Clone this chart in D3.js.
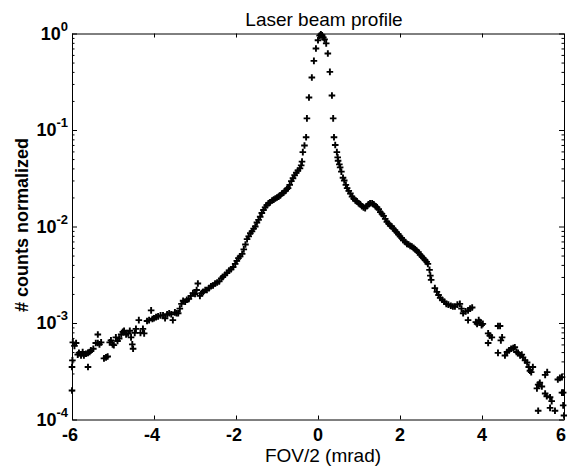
<html><head>
<title>Laser beam profile</title>
<style>
  body { margin: 0; background: #fff; }
  svg { display: block; font-family: "Liberation Sans", Arial, sans-serif; }
  .axis line, .axis path { stroke: #000; stroke-width: 1; }
  .mark { fill: none; stroke: #000; stroke-width: 1.9; }
</style>
<script src="https://d3js.org/d3.v7.min.js"></script>
</head>
<body>
<div id="chart"></div>
<script>
// FOV/2 in mrad
const fov = [
  -6.00, -6.00, -5.99, -5.98, -5.94, -5.90, -5.86, -5.83, -5.78, -5.74,
  -5.71, -5.66, -5.61, -5.61, -5.57, -5.54, -5.48, -5.42, -5.37, -5.37,
  -5.33, -5.29, -5.22, -5.17, -5.13, -5.08, -5.05, -5.01, -4.98, -4.93,
  -4.89, -4.85, -4.80, -4.76, -4.73, -4.68, -4.63, -4.59, -4.56, -4.53,
  -4.51, -4.47, -4.44, -4.37, -4.33, -4.27, -4.24, -4.17, -4.12, -4.07,
  -4.04, -4.00, -3.95, -3.90, -3.84, -3.78, -3.73, -3.68, -3.63, -3.58,
  -3.54, -3.49, -3.45, -3.41, -3.37, -3.33, -3.29, -3.24, -3.20, -3.15,
  -3.10, -3.05, -3.00, -2.96, -2.93, -2.88, -2.84, -2.80, -2.75, -2.71,
  -2.66, -2.61, -2.56, -2.51, -2.46, -2.41, -2.36, -2.32, -2.27, -2.22,
  -2.17, -2.12, -2.07, -2.02, -1.98, -1.94, -1.90, -1.85, -1.81, -1.77,
  -1.73, -1.69, -1.65, -1.61, -1.57, -1.53, -1.49, -1.45, -1.41, -1.37,
  -1.33, -1.29, -1.25, -1.21, -1.17, -1.12, -1.08, -1.04, -1.00, -0.96,
  -0.92, -0.88, -0.84, -0.80, -0.76, -0.73, -0.69, -0.65, -0.61, -0.57,
  -0.53, -0.49, -0.44, -0.41, -0.39, -0.37, -0.33, -0.29, -0.27, -0.22,
  -0.15, -0.10, -0.05, 0.00, 0.04, 0.07, 0.10, 0.13, 0.16, 0.20,
  0.24, 0.29, 0.34, 0.37, 0.39, 0.42, 0.46, 0.48, 0.49, 0.52,
  0.54, 0.57, 0.61, 0.64, 0.68, 0.71, 0.75, 0.79, 0.83, 0.87,
  0.91, 0.95, 0.99, 1.03, 1.07, 1.11, 1.15, 1.19, 1.23, 1.27,
  1.32, 1.36, 1.40, 1.44, 1.48, 1.52, 1.56, 1.60, 1.64, 1.68,
  1.72, 1.76, 1.80, 1.84, 1.88, 1.92, 1.96, 2.00, 2.04, 2.08,
  2.13, 2.17, 2.21, 2.25, 2.29, 2.33, 2.37, 2.41, 2.45, 2.49,
  2.53, 2.57, 2.61, 2.65, 2.68, 2.72, 2.74, 2.76, 2.85, 2.90,
  2.94, 2.98, 3.03, 3.08, 3.13, 3.18, 3.24, 3.29, 3.34, 3.40,
  3.46, 3.50, 3.54, 3.60, 3.66, 3.71, 3.76, 3.66, 3.85, 3.88,
  3.92, 3.95, 3.99, 4.02, 4.15, 4.19, 4.24, 4.15, 4.39, 4.44,
  4.49, 4.46, 4.39, 4.56, 4.61, 4.66, 4.71, 4.76, 4.80, 4.84,
  4.88, 4.93, 4.97, 5.00, 5.05, 5.10, 5.14, 5.17, 5.20, 5.24,
  5.34, 5.37, 5.41, 5.46, 5.54, 5.59, 5.54, 5.58, 5.66, 5.70,
  5.37, 5.66, 5.78, 5.85, 5.90, 5.95, 5.95, 5.98, 6.00, 5.98
];

// # counts normalized (peak = 1)
const counts = [
  2.0e-4, 3.5e-4, 4.1e-4, 6.3e-4, 5.8e-4, 6.2e-4, 4.7e-4, 4.9e-4, 4.6e-4, 5.0e-4,
  4.6e-4, 4.8e-4, 4.9e-4, 3.5e-4, 5.0e-4, 5.2e-4, 5.4e-4, 6.2e-4, 7.6e-4, 6.2e-4,
  6.0e-4, 6.3e-4, 4.3e-4, 4.4e-4, 4.5e-4, 6.3e-4, 6.6e-4, 6.0e-4, 5.9e-4, 7.1e-4,
  6.5e-4, 6.9e-4, 7.6e-4, 8.1e-4, 8.3e-4, 7.6e-4, 7.8e-4, 8.3e-4, 7.1e-4, 6.0e-4,
  5.4e-4, 7.9e-4, 8.7e-4, 1.07e-3, 7.9e-4, 8.7e-4, 7.8e-4, 1.05e-3, 1.07e-3, 1.35e-3,
  1.10e-3, 1.12e-3, 1.15e-3, 1.17e-3, 1.20e-3, 1.20e-3, 1.12e-3, 1.23e-3, 1.26e-3, 1.23e-3,
  1.07e-3, 1.29e-3, 1.26e-3, 1.26e-3, 1.41e-3, 1.58e-3, 1.70e-3, 1.66e-3, 1.74e-3, 1.78e-3,
  1.91e-3, 2.04e-3, 2.00e-3, 2.20e-3, 2.57e-3, 1.91e-3, 2.04e-3, 2.10e-3, 2.20e-3, 2.20e-3,
  2.30e-3, 2.40e-3, 2.45e-3, 2.57e-3, 2.63e-3, 2.70e-3, 2.90e-3, 3.00e-3, 3.16e-3, 3.30e-3,
  3.50e-3, 3.60e-3, 3.80e-3, 4.10e-3, 4.40e-3, 4.70e-3, 4.90e-3, 5.20e-3, 5.80e-3, 6.50e-3,
  7.40e-3, 7.90e-3, 8.50e-3, 8.90e-3, 9.50e-3, 1.00e-2, 1.10e-2, 1.17e-2, 1.26e-2, 1.38e-2,
  1.48e-2, 1.58e-2, 1.66e-2, 1.74e-2, 1.78e-2, 1.86e-2, 1.90e-2, 1.95e-2, 2.00e-2, 2.04e-2,
  2.10e-2, 2.20e-2, 2.24e-2, 2.34e-2, 2.45e-2, 2.50e-2, 2.70e-2, 2.95e-2, 3.16e-2, 3.40e-2,
  3.60e-2, 3.80e-2, 4.00e-2, 4.30e-2, 4.70e-2, 5.90e-2, 6.90e-2, 8.40e-2, 0.132, 0.217,
  0.35, 0.52, 0.70, 0.85, 0.95, 0.98, 0.96, 0.91, 0.87, 0.79,
  0.62, 0.40, 0.228, 0.132, 8.40e-2, 7.00e-2, 5.90e-2, 5.20e-2, 4.80e-2, 4.40e-2,
  4.10e-2, 3.70e-2, 3.20e-2, 3.00e-2, 2.70e-2, 2.50e-2, 2.34e-2, 2.20e-2, 2.04e-2, 1.95e-2,
  1.86e-2, 1.82e-2, 1.74e-2, 1.70e-2, 1.62e-2, 1.58e-2, 1.55e-2, 1.62e-2, 1.70e-2, 1.74e-2,
  1.74e-2, 1.70e-2, 1.62e-2, 1.58e-2, 1.51e-2, 1.41e-2, 1.35e-2, 1.29e-2, 1.20e-2, 1.12e-2,
  1.07e-2, 1.02e-2, 1.00e-2, 9.50e-3, 9.10e-3, 8.70e-3, 8.30e-3, 7.90e-3, 7.60e-3, 7.20e-3,
  6.90e-3, 6.60e-3, 6.50e-3, 6.30e-3, 6.20e-3, 6.00e-3, 5.80e-3, 5.60e-3, 5.40e-3, 5.10e-3,
  4.90e-3, 4.70e-3, 4.50e-3, 4.30e-3, 4.10e-3, 3.55e-3, 3.10e-3, 2.80e-3, 2.30e-3, 2.10e-3,
  1.95e-3, 1.82e-3, 1.74e-3, 1.66e-3, 1.58e-3, 1.55e-3, 1.51e-3, 1.48e-3, 1.48e-3, 1.55e-3,
  1.58e-3, 1.41e-3, 1.26e-3, 1.32e-3, 1.35e-3, 1.41e-3, 1.45e-3, 1.07e-3, 1.02e-3, 9.8e-4,
  1.07e-3, 1.02e-3, 9.5e-4, 9.8e-4, 7.8e-4, 7.4e-4, 7.1e-4, 6.2e-4, 9.3e-4, 9.3e-4,
  7.1e-4, 6.6e-4, 4.9e-4, 4.6e-4, 5.0e-4, 5.2e-4, 5.4e-4, 5.5e-4, 5.6e-4, 5.0e-4,
  4.9e-4, 4.6e-4, 4.7e-4, 4.4e-4, 4.1e-4, 3.9e-4, 3.5e-4, 3.2e-4, 3.1e-4, 3.5e-4,
  2.1e-4, 2.3e-4, 2.4e-4, 2.2e-4, 2.9e-4, 3.1e-4, 1.86e-4, 1.74e-4, 1.70e-4, 1.55e-4,
  1.23e-4, 1.32e-4, 1.23e-4, 2.6e-4, 2.7e-4, 2.75e-4, 1.9e-4, 1.9e-4, 1.1e-4, 1.4e-4
];

const xTicks = [-6, -4, -2, 0, 2, 4, 6];
const yTicks = [1e-4, 1e-3, 1e-2, 1e-1, 1];
const yExponents = ["-4", "-3", "-2", "-1", "0"];

const W = 567, H = 466;
const plotLeft = 72, plotRight = 564, plotTop = 33.5, plotBottom = 419.5;

const svg = d3.select("#chart").append("svg")
  .attr("width", W)
  .attr("height", H);

const x = d3.scaleLinear().domain([-6, 6]).range([plotLeft, plotRight]);
const y = d3.scaleLog().domain([1e-4, 1]).range([plotBottom, plotTop]);

// minor ticks for the log axis (2..9 of each decade)
let minor = [];
yTicks.slice(0, -1).forEach(d => {
  for (let k = 2; k <= 9; k++) minor.push(d * k);
});

// bottom + top axes, ticks pointing inwards
svg.append("g").attr("class", "axis")
  .attr("transform", `translate(0,${plotBottom})`)
  .call(d3.axisBottom(x).tickValues(xTicks).tickSize(-4).tickSizeOuter(0).tickFormat(""));
svg.append("g").attr("class", "axis")
  .attr("transform", `translate(0,${plotTop})`)
  .call(d3.axisTop(x).tickValues(xTicks).tickSize(-4).tickSizeOuter(0).tickFormat(""));

// left + right axes
svg.append("g").attr("class", "axis")
  .attr("transform", `translate(${plotLeft},0)`)
  .call(d3.axisLeft(y).tickValues(yTicks).tickSize(-5).tickSizeOuter(0).tickFormat(""));
svg.append("g").attr("class", "axis")
  .attr("transform", `translate(${plotLeft},0)`)
  .call(d3.axisLeft(y).tickValues(minor).tickSize(-2.5).tickSizeOuter(0).tickFormat(""))
  .select(".domain").remove();
svg.append("g").attr("class", "axis")
  .attr("transform", `translate(${plotRight},0)`)
  .call(d3.axisRight(y).tickValues(yTicks).tickSize(-5).tickSizeOuter(0).tickFormat(""));
svg.append("g").attr("class", "axis")
  .attr("transform", `translate(${plotRight},0)`)
  .call(d3.axisRight(y).tickValues(minor).tickSize(-2.5).tickSizeOuter(0).tickFormat(""))
  .select(".domain").remove();

// tick labels (the last one is pulled in so it stays inside the window)
svg.append("g").selectAll("text")
  .data(xTicks)
  .join("text")
  .attr("x", d => d === 6 ? W - 1 : x(d) - (d < 0 ? 2 : 0))
  .attr("y", 441)
  .attr("text-anchor", d => d === 6 ? "end" : "middle")
  .attr("font-size", 18)
  .attr("font-weight", "bold")
  .text(d => d);

const yl = svg.append("g").selectAll("text")
  .data(yTicks)
  .join("text")
  .attr("x", 68)
  .attr("y", d => y(d) + 6)
  .attr("text-anchor", "end")
  .attr("font-size", 18)
  .attr("font-weight", "bold");
yl.append("tspan").text("10");
yl.append("tspan")
  .attr("dy", -9)
  .attr("font-size", 13)
  .text((d, i) => yExponents[i]);

// titles
svg.append("text")
  .attr("x", 324).attr("y", 26)
  .attr("text-anchor", "middle")
  .attr("font-size", 19)
  .text("Laser beam profile");

svg.append("text")
  .attr("x", 323).attr("y", 462)
  .attr("text-anchor", "middle")
  .attr("font-size", 19)
  .text("FOV/2 (mrad)");

svg.append("text")
  .attr("transform", "translate(28,225) rotate(-90)")
  .attr("text-anchor", "middle")
  .attr("font-size", 18)
  .attr("font-weight", "bold")
  .text("# counts normalized");

// data markers
svg.append("g").selectAll("path")
  .data(fov.map((d, i) => [d, counts[i]]))
  .join("path")
  .attr("class", "mark")
  .attr("transform", d => `translate(${x(d[0])},${y(d[1])})`)
  .attr("d", "M-3.3,0H3.3M0,-3.3V3.3");
</script>
</body></html>
